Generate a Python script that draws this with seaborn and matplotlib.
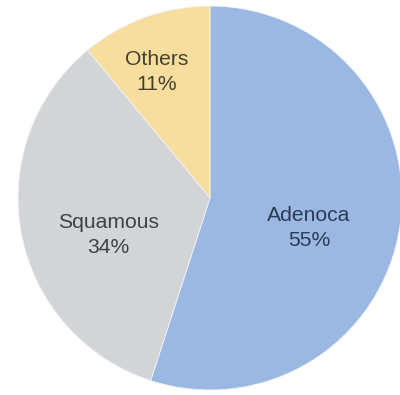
import matplotlib
matplotlib.use("Agg")
import matplotlib.pyplot as plt
import seaborn as sns

categories = ["Adenoca", "Squamous", "Others"]
values = [55, 34, 11]
pct_labels = ["55%", "34%", "11%"]

colors = ["#9ab8e2", "#d3d4d6", "#f7dd9e"]
text_colors = ["#2b3a55", "#3f4145", "#45402c"]
# label anchor positions in units of pie radius
label_pos = [(0.516, -0.156), (-0.531, -0.193), (-0.276, 0.656)]

sns.set_theme(style="white")
plt.rcParams["font.family"] = ["Liberation Sans", "DejaVu Sans"]

fig = plt.figure(figsize=(4.0, 3.95), dpi=100)
ax = fig.add_axes([0.045, 0.0127, 0.96, 0.972])
wedges, _ = ax.pie(values, colors=colors, startangle=90, counterclock=False,
                   radius=1.0, wedgeprops=dict(linewidth=0.6, edgecolor="#eef3fa"))
for name, pct, tc, (x, y) in zip(categories, pct_labels, text_colors, label_pos):
    ax.text(x, y, f"{name}\n{pct}", ha="center", va="center", fontsize=15.2,
            color=tc, linespacing=1.35)
ax.set_xlim(-1, 1)
ax.set_ylim(-1, 1)
ax.set_aspect("equal")
ax.axis("off")
fig.savefig("out.png", dpi=100)
